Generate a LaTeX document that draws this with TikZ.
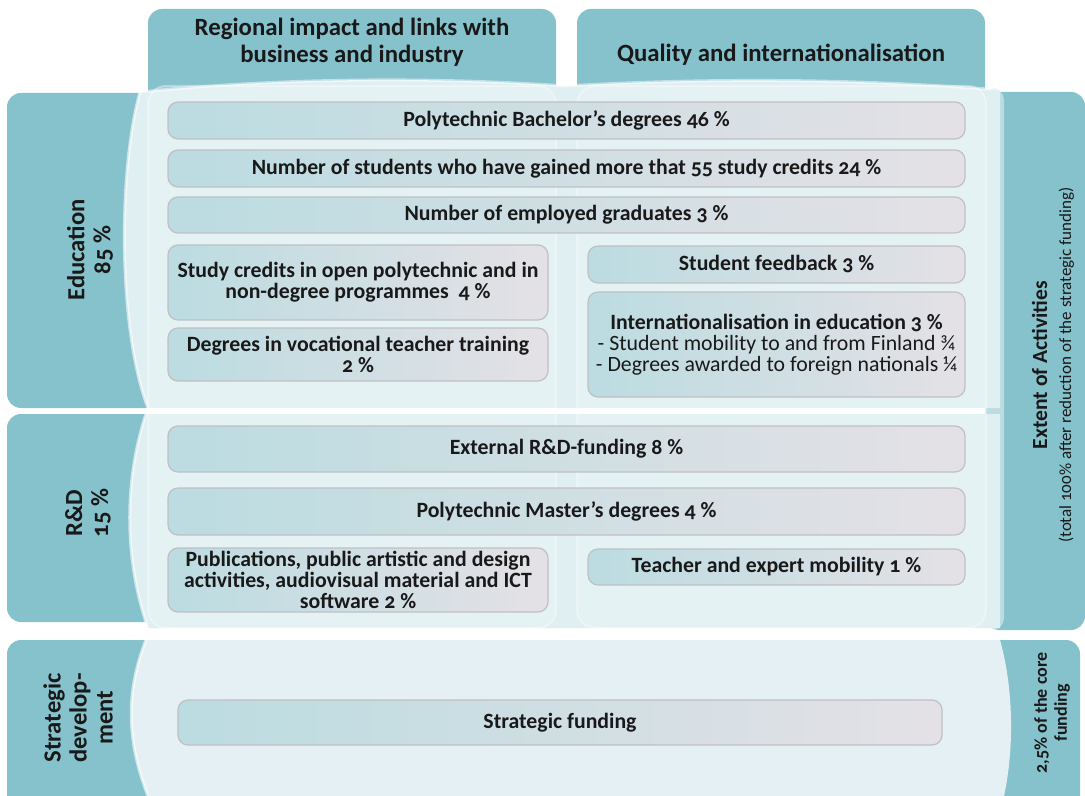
\documentclass[tikz,border=0pt]{standalone}
\usepackage{fontspec}
\setmainfont{Carlito}[Numbers=OldStyle]

\definecolor{tabteal}{RGB}{134,194,204}
\definecolor{panelblue}{RGB}{223,239,242}
\definecolor{stratblue}{RGB}{229,240,244}
\definecolor{barteal}{RGB}{187,220,225}
\definecolor{barpink}{RGB}{228,225,230}
\definecolor{bargray}{RGB}{192,192,195}
\definecolor{inktext}{RGB}{25,25,25}

\tikzset{
  tab/.style={fill=tabteal, rounded corners=7pt},
  panel/.style={fill=panelblue},
  column/.style={fill=white, fill opacity=0.2, draw=white, draw opacity=0.35, line width=1pt, rounded corners=9pt},
  bar/.style={draw=bargray, line width=0.6pt, rounded corners=5pt, left color=barteal, right color=barpink,
    inner sep=0pt, align=center, text=inktext, font=\bfseries\fontsize{10.9}{10.5}\selectfont},
  widebar/.style={bar, minimum width=398.5pt},
  leftbar/.style={bar, minimum width=190pt},
  rightbar/.style={bar, minimum width=188.5pt},
  tablabel/.style={rotate=90, align=center, text=inktext, font=\bfseries\fontsize{12.3}{13}\selectfont},
  sidelabel/.style={rotate=90, align=center, text=inktext, font=\bfseries\fontsize{9}{10}\selectfont},
  headlabel/.style={align=center, text=inktext, font=\bfseries\fontsize{12.4}{13.5}\selectfont},
}

\begin{document}
\begin{tikzpicture}[x=0.5pt, y=-0.5pt]
  \useasboundingbox (0,0) rectangle (1085,796);

  % tabs round the panels
  \fill[tab] (7,93) rectangle (160,408);
  \fill[tab] (7,414) rectangle (160,622);
  \fill[tabteal] (7,796) [rounded corners=7pt] -- (7,640) -- (160,640) [sharp corners] -- (160,796) -- cycle;
  \fill[tab] (148,9) rectangle (556,110);
  \fill[tab] (577,9) rectangle (985,110);
  \fill[tab] (985,92) rectangle (1085,630);
  \fill[tabteal] (985,796) [rounded corners=7pt] -- (985,640) -- (1080,640) [sharp corners] -- (1080,796) -- cycle;

  % light panels
  \fill[panel] (148,408) .. controls (118,330) and (118,170) .. (140,92)
    .. controls (300,76) and (450,78) .. (566,86)
    .. controls (700,78) and (850,78) .. (1000,90) -- (1000,408) -- cycle;
  \fill[panel] (148,628) .. controls (124,560) and (124,480) .. (146,414) -- (1000,414)
    -- (1000,628) -- cycle;
  \fill[stratblue] (148,796) .. controls (126,740) and (126,690) .. (146,640) -- (1000,640)
    .. controls (1014,690) and (1014,750) .. (1004,796) -- cycle;
  \draw[white, opacity=0.6, line width=1.5pt] (148,408) .. controls (118,330) and (118,170) .. (140,92);
  \draw[white, opacity=0.6, line width=1.5pt] (148,628) .. controls (124,560) and (124,480) .. (146,414);
  \draw[white, opacity=0.6, line width=1.5pt] (148,796) .. controls (126,740) and (126,690) .. (146,640);
  \draw[white, opacity=0.5, line width=1.5pt] (140,92) .. controls (300,76) and (450,78) .. (566,86)
    .. controls (700,78) and (850,78) .. (1000,90);
  \fill[panelblue, opacity=0.6, rounded corners=6pt] (985,88) rectangle (1004,630);

  % the two columns
  \path[column] (148,86) rectangle (556,628);
  \path[column] (577,86) rectangle (986,628);

  % headers
  \node[headlabel] (regional) at (352,42) {Regional impact and links with\\business and industry};
  \node[headlabel] (quality) at (781,55) {Quality and internationalisation};

  % side labels
  \node[tablabel] (education) at (90,250) {Education\\85 \%};
  \node[tablabel] (rd) at (88,513) {R\&D\\15 \%};
  \node[tablabel] (strategic) at (78,718) {Strategic\\develop-\\ment};
  \node[rotate=90, align=center, text=inktext] (extent) at (1053,365)
    {{\bfseries\fontsize{10.8}{12}\selectfont Extent of Activities}\\
     {\fontsize{8.5}{10}\selectfont (total 100\% after reduction of the strategic funding)}};
  \node[sidelabel] (core) at (1052,713) {2,5\% of the core\\funding};

  % education
  \node[widebar, minimum height=18.5pt] (bachelor) at (566.5,120.5) {Polytechnic Bachelor’s degrees 46 \%};
  \node[widebar, minimum height=18.5pt] (credits55) at (566.5,168.5) {Number of students who have gained more that 55 study credits 24 \%};
  \node[widebar, minimum height=18pt] (employed) at (566.5,215) {Number of employed graduates 3 \%};
  \node[leftbar, minimum height=37.5pt] (openpoly) at (358,282.5) {Study credits in open polytechnic and in\\non-degree programmes\ \ 4 \%};
  \node[leftbar, minimum height=26.5pt] (vocational) at (358,354.5) {Degrees in vocational teacher training\\2 \%};
  \node[rightbar, minimum height=18.5pt] (feedback) at (776.5,264.5) {Student feedback 3 \%};
  \node[rightbar, minimum height=52.5pt] (intl) at (776.5,344.5) {Internationalisation in education 3 \%\\
    {\mdseries - Student mobility to and from Finland ¾}\\
    {\mdseries - Degrees awarded to foreign nationals ¼}};

  % R&D
  \node[widebar, minimum height=23pt] (rdfunding) at (566.5,449) {External R\&D-funding 8 \%};
  \node[widebar, minimum height=23.5pt] (master) at (566.5,511.5) {Polytechnic Master’s degrees 4 \%};
  \node[leftbar, minimum height=32pt] (publications) at (358,580) {Publications, public artistic and design\\activities, audiovisual material and ICT\\software 2 \%};
  \node[rightbar, minimum height=18pt] (mobility) at (776.5,567) {Teacher and expert mobility 1 \%};

  % strategic development
  \node[bar, minimum width=382pt, minimum height=22.5pt] (stratfunding) at (560,722.5) {Strategic funding};
\end{tikzpicture}
\end{document}
